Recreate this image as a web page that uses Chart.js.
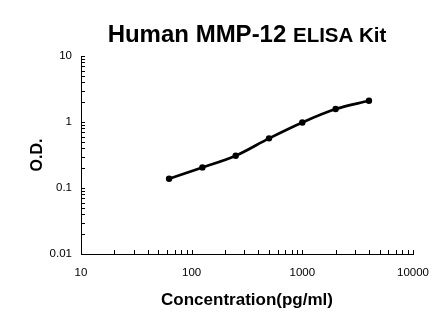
<!DOCTYPE html>
<html>
<head>
<meta charset="utf-8">
<script src="https://cdn.jsdelivr.net/npm/chart.js@4/dist/chart.umd.min.js"></script>
<style>
    body { margin: 0; background: #fff; }
    #wrap { width: 446px; height: 326px; }
</style>
</head>
<body>
<div id="wrap"><canvas id="elisa-chart" width="446" height="326"></canvas></div>
<script>
// Standard curve readings
const concentrations = [62.5, 125, 250, 500, 1000, 2000, 4000];
const odValues = [0.138, 0.205, 0.308, 0.565, 0.985, 1.57, 2.10];

// Axis decades (labelled ticks)
const xMajorTicks = [10, 100, 1000, 10000];
const yMajorTicks = [0.01, 0.1, 1, 10];

const titleMain = 'Human MMP-12';
const titleSub = 'ELISA Kit';
const FONT = "'Liberation Sans', Arial, sans-serif";

// decade marks plus the 2..9 minor marks in between
function withMinors(majors) {
    const out = [];
    majors.forEach((m, i) => {
        out.push(m);
        if (i < majors.length - 1) {
            for (let k = 2; k <= 9; k++) out.push(+(m * k).toPrecision(6));
        }
    });
    return out;
}
const xTicks = withMinors(xMajorTicks);
const yTicks = withMinors(yMajorTicks);

// inward tick marks like the original (Excel style)
const innerTicks = {
    id: 'innerTicks',
    afterDraw(chart) {
        const ctx = chart.ctx;
        const area = chart.chartArea;
        const xs = chart.scales.x, ys = chart.scales.y;
        ctx.save();
        ctx.strokeStyle = '#000';
        ctx.lineWidth = 1;
        ctx.beginPath();
        xs.ticks.forEach(t => {
            const px = Math.round(xs.getPixelForValue(t.value)) + 0.5;
            ctx.moveTo(px, area.bottom);
            ctx.lineTo(px, area.bottom - 4);
        });
        ys.ticks.forEach(t => {
            const py = Math.round(ys.getPixelForValue(t.value)) + 0.5;
            ctx.moveTo(area.left, py);
            ctx.lineTo(area.left + 4, py);
        });
        ctx.stroke();
        ctx.restore();
    }
};

// two-size title
const mixedTitle = {
    id: 'mixedTitle',
    afterDraw(chart) {
        const ctx = chart.ctx;
        const area = chart.chartArea;
        ctx.save();
        ctx.fillStyle = '#000';
        ctx.textBaseline = 'alphabetic';
        const f1 = 'bold 24px ' + FONT;
        const f2 = 'bold 20.5px ' + FONT;
        ctx.font = f1;
        const w1 = ctx.measureText(titleMain + ' ').width;
        ctx.font = f2;
        const w2 = ctx.measureText(titleSub).width;
        let x = (area.left + area.right) / 2 - (w1 + w2) / 2;
        ctx.font = f1;
        ctx.fillText(titleMain + ' ', x, 42);
        ctx.font = f2;
        ctx.fillText(titleSub, x + w1, 42);
        ctx.restore();
    }
};

const isMajor = (v, majors) => majors.some(m => Math.abs(m - v) / m < 1e-9);

const ctx = document.getElementById('elisa-chart').getContext('2d');
new Chart(ctx, {
    type: 'scatter',
    data: {
        datasets: [{
            data: concentrations.map((c, i) => ({ x: c, y: odValues[i] })),
            showLine: true,
            borderColor: '#000',
            backgroundColor: '#000',
            borderWidth: 2.7,
            tension: 0.4,
            cubicInterpolationMode: 'monotone',
            pointRadius: 3.2,
            pointHoverRadius: 3.2,
            pointBackgroundColor: '#000',
            pointBorderWidth: 0
        }]
    },
    options: {
        responsive: false,
        animation: false,
        layout: { padding: { top: 56, right: 33, left: 0, bottom: 0 } },
        plugins: {
            legend: { display: false },
            title: { display: false },
            tooltip: { enabled: false }
        },
        scales: {
            x: {
                type: 'logarithmic',
                min: 10,
                max: 10000,
                afterBuildTicks: s => { s.ticks = xTicks.map(v => ({ value: v })); },
                afterFit: s => { s.height = 72; },
                grid: { display: false, drawTicks: false },
                border: { display: true, color: '#000', width: 1 },
                ticks: {
                    autoSkip: false,
                    maxRotation: 0,
                    padding: 12,
                    color: '#000',
                    font: { family: FONT, size: 11.5 },
                    callback: v => isMajor(v, xMajorTicks) ? String(v) : ''
                },
                title: {
                    display: true,
                    text: 'Concentration(pg/ml)',
                    color: '#000',
                    font: { family: FONT, size: 17, weight: 'bold' },
                    padding: { top: 0, bottom: 15 }
                }
            },
            y: {
                type: 'logarithmic',
                min: 0.01,
                max: 10,
                afterBuildTicks: s => { s.ticks = yTicks.map(v => ({ value: v })); },
                afterFit: s => { s.width = 81; },
                grid: { display: false, drawTicks: false },
                border: { display: true, color: '#000', width: 1 },
                ticks: {
                    autoSkip: false,
                    padding: 9,
                    color: '#000',
                    font: { family: FONT, size: 11.5 },
                    callback: v => isMajor(v, yMajorTicks) ? String(v) : ''
                },
                title: {
                    display: true,
                    text: 'O.D.',
                    color: '#000',
                    font: { family: FONT, size: 16, weight: 'bold' },
                    padding: { top: 28, bottom: 0 }
                }
            }
        }
    },
    plugins: [innerTicks, mixedTitle]
});
</script>
</body>
</html>
